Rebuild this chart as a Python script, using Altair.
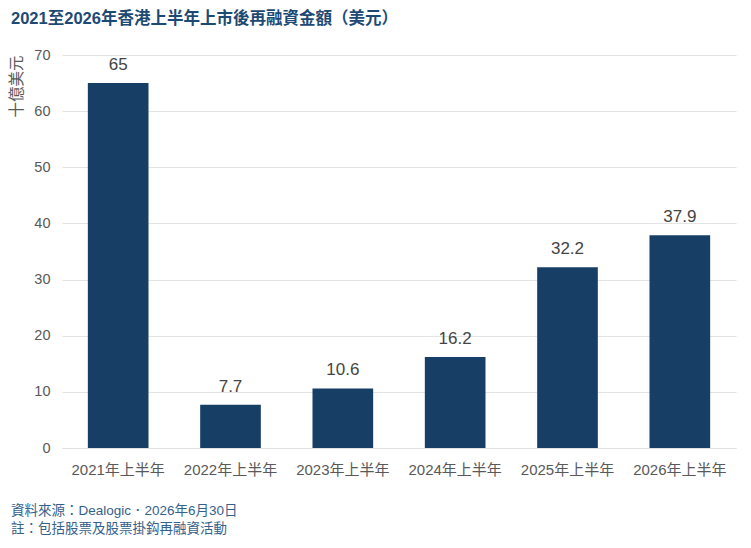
import pandas as pd
import altair as alt

periods = ["2021年上半年", "2022年上半年", "2023年上半年", "2024年上半年", "2025年上半年", "2026年上半年"]
amounts = [65, 7.7, 10.6, 16.2, 32.2, 37.9]
labels = ["65", "7.7", "10.6", "16.2", "32.2", "37.9"]
footer = "資料來源：Dealogic．2026年6月30日\n註：包括股票及股票掛鈎再融資活動"

df = pd.DataFrame({"period": periods, "amount": amounts, "label": labels})

FONT = "Liberation Sans, Noto Sans CJK TC"

base = alt.Chart(df).encode(
    x=alt.X("period:N", sort=periods, title=None,
            scale=alt.Scale(paddingInner=0.46),
            axis=alt.Axis(labelAngle=0, labelFontSize=15, labelColor="#595959",
                          labelPadding=14, ticks=False, domainColor="#e0e0e0",
                          labelFont=FONT)),
    y=alt.Y("amount:Q", title="十億美元",
            scale=alt.Scale(domain=[0, 70]),
            axis=alt.Axis(values=[0, 10, 20, 30, 40, 50, 60, 70], domain=False, ticks=False,
                          labelFontSize=14.5, labelColor="#595959", labelPadding=12,
                          gridColor="#e3e3e3", labelFont=FONT,
                          titleFont=FONT, titleFontSize=15.5, titleColor="#595959",
                          titleFontWeight="normal", titleAngle=-90, titleAnchor="end",
                          titleAlign="right", titleBaseline="middle",
                          titleX=-46, titleY=0)),
)

bars = base.mark_bar(color="#173f66")
text = base.mark_text(baseline="bottom", dy=-9, fontSize=17, color="#444444",
                      font=FONT).encode(text="label:N")

note = alt.Chart(pd.DataFrame({"t": [footer]})).mark_text(
    align="left", baseline="top", lineBreak="\n", fontSize=13.5, color="#35618a",
    font=FONT, lineHeight=17.5
).encode(x=alt.value(-51), y=alt.value(449), text="t:N")

chart = alt.layer(bars, text, note).properties(
    width=674, height=393,
    padding={"left": 54, "top": 47, "right": 5, "bottom": 100},
    autosize=alt.AutoSizeParams(type="none"),
    title=alt.TitleParams("2021至2026年香港上半年上市後再融資金額（美元）", anchor="start",
                          frame="group", dx=-51, offset=20, fontSize=16.5,
                          fontWeight="bold", color="#1d4a74", font=FONT),
).configure_view(stroke=None)

chart.save("out.html", embed_options={"renderer": "svg", "actions": False})
